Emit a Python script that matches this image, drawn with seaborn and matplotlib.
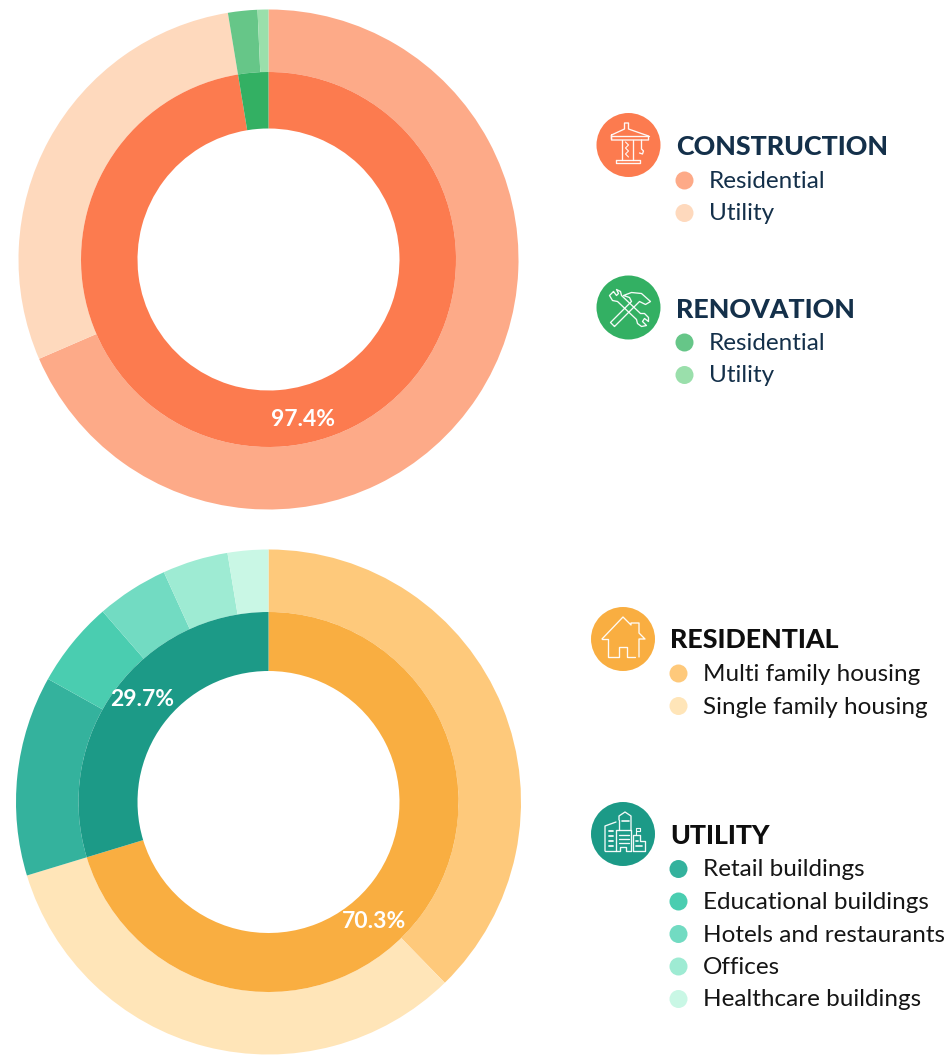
import matplotlib
matplotlib.use("Agg")
import matplotlib.pyplot as plt
import seaborn as sns

# values, percent of each ring
construction_share = 97.4
renovation_share = 2.6
top_outer = [68.5, 28.9, 1.9, 0.7]
residential_share = 70.3
utility_share = 29.7
bottom_outer = [37.7, 32.6, 12.8, 5.5, 4.6, 4.2, 2.6]

top_legend_1 = ["Residential", "Utility"]
top_legend_2 = ["Residential", "Utility"]
bottom_legend_1 = ["Multi family housing", "Single family housing"]
bottom_legend_2 = ["Retail buildings", "Educational buildings", "Hotels and restaurants", "Offices", "Healthcare buildings"]

orange = "#FC7B4F"
green = "#33B063"
amber = "#F9AE41"
teal = "#1C9A87"
orange_pal = sns.color_palette(["#FDAA88", "#FED9BD"])
green_pal = sns.color_palette(["#66C688", "#9ADFAB"])
amber_pal = sns.color_palette(["#FEC97B", "#FFE5B8"])
teal_pal = sns.color_palette(["#34B29D", "#4ACDB0", "#72DBC2", "#9EEBD3", "#C9F7E5"])

W, H = 951, 1055
sns.set_theme(style="white")
plt.rcParams['font.family'] = ['Lato', 'DejaVu Sans']

fig = plt.figure(figsize=(W / 100, H / 100), dpi=100)
ax = fig.add_axes([0, 0, 1, 1])


def donut(cx, cy, r_out, r_mid, r_in, outer, inner, outer_cols, inner_cols):
    edge = dict(edgecolor="none", linewidth=0)
    ax.pie(outer, colors=outer_cols, radius=r_out, center=(cx, H - cy), startangle=90,
           counterclock=False, wedgeprops=dict(width=r_out - r_mid, **edge))
    ax.pie(inner, colors=inner_cols, radius=r_mid, center=(cx, H - cy), startangle=90,
           counterclock=False, wedgeprops=dict(width=r_mid - r_in, **edge))


def line(cx, cy, pts, lw=0.95):
    ax.plot([cx + p[0] for p in pts], [H - cy - p[1] for p in pts], color="white", lw=lw,
            alpha=0.95, solid_capstyle="round", solid_joinstyle="round", zorder=5)


def badge(cx, cy, color):
    ax.add_patch(plt.Circle((cx, H - cy), 32, color=color, lw=0, zorder=4))


def crane(cx, cy):
    badge(cx, cy, orange)
    line(cx, cy, [(-17, -6), (-17, -10), (-4, -16), (-4, -22), (0, -22), (0, -16), (20, -9), (20, -5), (-17, -5), (-17, -10)])
    line(cx, cy, [(-17, -9), (20, -9)])
    line(cx, cy, [(-7, -5), (-7, 15)])
    line(cx, cy, [(4, -5), (4, 15)])
    line(cx, cy, [(-13, 15), (11, 15), (11, 18), (-13, 18), (-13, 15)])
    line(cx, cy, [(-3, -3), (0, 0), (-3, 3), (0, 6), (-3, 9), (0, 12)], lw=0.8)
    line(cx, cy, [(13, -5), (13, 4), (15, 6), (14, 9), (11, 8)])


def tools(cx, cy):
    badge(cx, cy, green)
    # wrench
    line(cx, cy, [(-15, -16), (-19, -12), (-16, -7), (-11, -6), (8, 12), (9, 16), (13, 19), (18, 18), (14, 14), (16, 11), (20, 14), (20, 10), (16, 6), (12, 6), (-7, -12), (-8, -16), (-12, -18), (-10, -14), (-12, -12), (-15, -16)])
    # hammer
    line(cx, cy, [(-14, 19), (7, -2), (11, -6), (17, -3), (22, -6), (13, -14), (3, -15), (-5, -12), (1, -10), (3, -6), (-18, 15), (-14, 19)])


def house(cx, cy):
    badge(cx, cy, amber)
    line(cx, cy, [(-21, 0), (0, -22), (8, -14), (8, -16), (16, -16), (16, -6), (22, 0), (16, 0), (16, 18)])
    line(cx, cy, [(-21, 0), (-15, 0), (-15, 18), (-4, 18), (-4, 8), (4, 8), (4, 18), (12, 18)])


def city(cx, cy):
    badge(cx, cy, teal)
    # left block
    line(cx, cy, [(-18, 17), (-18, -8), (-7, -12)])
    line(cx, cy, [(-14, -3), (-10, -3)], lw=1.3)
    line(cx, cy, [(-14, 2), (-10, 2)], lw=1.3)
    line(cx, cy, [(-14, 7), (-10, 7)], lw=1.3)
    line(cx, cy, [(-14, 12), (-10, 12)], lw=1.3)
    # middle tower
    line(cx, cy, [(-7, 17), (-7, -4), (8, -4), (8, 17)])
    line(cx, cy, [(-4, -14), (-4, -18), (2, -22), (8, -18), (8, -4)])
    line(cx, cy, [(-4, -14), (-4, -4)])
    line(cx, cy, [(-1, -13), (6, -13)], lw=1.2)
    line(cx, cy, [(-4, 1), (6, 1)])
    line(cx, cy, [(-4, 5), (6, 5)])
    line(cx, cy, [(-4, 9), (6, 9)])
    line(cx, cy, [(-18, 17), (-3, 17), (-3, 13), (3, 13), (3, 17), (8, 17)])
    # right block
    line(cx, cy, [(10, 17), (10, 1), (17, 1), (17, 7), (22, 7), (22, 17), (10, 17)])
    line(cx, cy, [(13, 7), (15, 7)], lw=1.2)
    line(cx, cy, [(13, 12), (19, 12)], lw=1.2)
    line(cx, cy, [(13, 1), (13, -6), (17, -6), (17, -3), (13, -3)], lw=0.8)


def legend(x, head_y, title, title_col, text_col, names, cols, first_y, step):
    ax.text(x, H - head_y, title, color=title_col, fontsize=19.3, fontweight="black", va="center", ha="left")
    for i, name in enumerate(names):
        y = H - (first_y + i * step)
        ax.add_patch(plt.Circle((x + 8.5, y), 9, color=cols[i], lw=0))
        ax.text(x + 33, y - 1, name, color=text_col, fontsize=17.5, va="center", ha="left")


donut(268.5, 259.5, 250, 187.5, 131, top_outer, [construction_share, renovation_share],
      list(orange_pal) + list(green_pal), [orange, green])
donut(268.5, 802, 252.5, 190, 131, bottom_outer, [residential_share, utility_share],
      list(amber_pal) + list(teal_pal), [amber, teal])

ax.text(303, H - 419, f"{construction_share}%", color="white", fontsize=16.5, fontweight="bold", ha="center", va="center")
ax.text(374, H - 922, f"{residential_share}%", color="white", fontsize=16.5, fontweight="bold", ha="center", va="center")
ax.text(142, H - 700, f"{utility_share}%", color="white", fontsize=16.5, fontweight="bold", ha="center", va="center")

crane(628.5, 145)
tools(628.5, 307.5)
house(623, 639)
city(623, 834)

navy = "#14304A"
dark = "#151515"
legend(676, 147, "CONSTRUCTION", navy, navy, top_legend_1, orange_pal, 180.5, 32.5)
legend(676, 310, "RENOVATION", navy, navy, top_legend_2, green_pal, 342.5, 32.5)
legend(670, 640, "RESIDENTIAL", "#0E0E0E", dark, bottom_legend_1, amber_pal, 673.5, 32.5)
legend(670, 836, "UTILITY", "#0E0E0E", dark, bottom_legend_2, teal_pal, 869, 32.5)

ax.set_xlim(0, W)
ax.set_ylim(0, H)
ax.set_aspect("equal")
ax.axis("off")

fig.savefig("out.png", dpi=100, facecolor="white")
